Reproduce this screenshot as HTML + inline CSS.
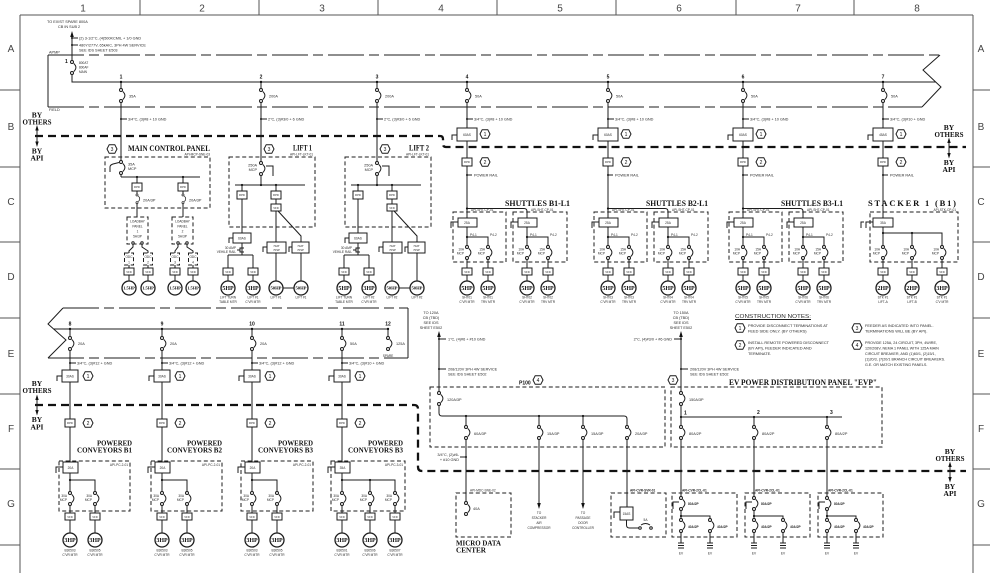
<!DOCTYPE html>
<html><head><meta charset="utf-8">
<style>
html,body{margin:0;padding:0;background:#fff;width:990px;height:573px;overflow:hidden}
svg{display:block}
text{font-family:"Liberation Sans",sans-serif;fill:#2a2a2a;stroke:none;font-size:3.8px}
.n{font-size:5px;font-weight:bold;fill:#111}
.h{font-family:"Liberation Serif",serif;font-weight:bold;fill:#111}
.g{font-size:10px;fill:#444}
.m{font-family:"Liberation Serif",serif;font-weight:bold;font-size:6px;fill:#111;text-anchor:middle}
.c{text-anchor:middle}
.e{text-anchor:end}
.k{font-size:3.2px}
.x{font-size:5px;text-anchor:middle;fill:#111}
.b{font-weight:bold}
.dl{stroke-dasharray:4 2.6}
.cl{stroke-dasharray:36 5 10 5}
</style></head><body>
<svg width="990" height="573" viewBox="0 0 990 573" xmlns="http://www.w3.org/2000/svg">
<defs>
<g id="b"><rect x="-2" y="1.6" width="4" height="7.8" fill="#fff" stroke="none"/><circle cx="0" cy="0" r="1.5" fill="#fff"/><circle cx="0" cy="11" r="1.5" fill="#fff"/><path d="M1.8,1.5 Q6,5.5 1.8,9.5" fill="none"/></g>
<g id="m"><circle r="7" fill="#fff" stroke-width="1.3"/></g>
<g id="hx"><polygon points="-5,0 -2.8,-4.3 2.8,-4.3 5,0 2.8,4.3 -2.8,4.3" fill="#fff"/></g>
</defs>
<rect width="990" height="573" fill="#fff"/>
<g stroke="#1c1c1c" stroke-width="1" fill="none">
<!-- frame -->
<path stroke="#555" d="M20,15H973M20,15V573M973,15V573M140,0V15M259,0V15M378,0V15M497,0V15M616,0V15M736,0V15M854,0V15M0,90H20M0,167H20M0,242H20M0,318H20M0,394H20M0,469H20M0,545H20M973,90H990M973,167H990M973,242H990M973,318H990M973,394H990M973,469H990M973,545H990"/>

<!-- APMP top -->
<path class="cl" d="M48,55H940M48,107H922"/>
<path d="M48,55V107M940,55L923,70L941,87L922,107"/>
<path d="M72,35V82H936M72,38H78M72,45H78"/>
<use href="#b" x="72" y="62"/>
<path d="M121,82V177M261,82V185M377,82V185M467,82V218M608,82V218M743,82V218M883,82V218"/>
<path d="M121,119H127M261,119H267M377,119H383M467,119H473M608,119H614M743,119H749M883,119H889"/>
<use href="#b" x="121" y="90"/><use href="#b" x="261" y="90"/><use href="#b" x="377" y="90"/><use href="#b" x="467" y="90"/><use href="#b" x="608" y="90"/><use href="#b" x="743" y="90"/><use href="#b" x="883" y="90"/>

<!-- thick dashed lines -->
<path stroke="#111" stroke-width="2.3" stroke-dasharray="8 5" d="M35,136H440Q443,136 443,139V144Q443,147 446,147H966"/>
<path stroke="#111" stroke-width="2.3" stroke-dasharray="8 5" d="M35,405H414Q418,405 418,409V467Q418,471 422,471H966"/>
<path d="M37,128V144M949,140V156M37,397V413M950,464V480"/>

<!-- disconnects 4-7 -->
<path d="M457,135H452V140M598,135H593V140M733,135H728V140M873,135H868V140M467,175H472M608,175H613M743,175H748M883,175H888"/>
<rect x="457" y="128" width="20" height="13" fill="#fff"/><rect x="598" y="128" width="20" height="13" fill="#fff"/><rect x="733" y="128" width="20" height="13" fill="#fff"/><rect x="873" y="128" width="20" height="13" fill="#fff"/>
<rect x="462" y="158" width="10" height="8" fill="#fff"/><rect x="603" y="158" width="10" height="8" fill="#fff"/><rect x="738" y="158" width="10" height="8" fill="#fff"/><rect x="878" y="158" width="10" height="8" fill="#fff"/>
<use href="#hx" x="485" y="134"/><use href="#hx" x="626" y="134"/><use href="#hx" x="761" y="134"/><use href="#hx" x="901" y="134"/>
<use href="#hx" x="485" y="162"/><use href="#hx" x="626" y="162"/><use href="#hx" x="761" y="162"/><use href="#hx" x="901" y="162"/>

<!-- MAIN CONTROL PANEL -->
<use href="#hx" x="112" y="149"/>
<rect class="dl" x="105" y="157" width="105" height="51"/>
<use href="#b" x="121" y="162"/>
<path d="M110,172V167Q110,165 113,164L119,162.5"/>
<path d="M121,177H200M137,177V217M183,177V217"/>
<rect x="132" y="183" width="10" height="8" fill="#fff"/><rect x="178" y="183" width="10" height="8" fill="#fff"/>
<use href="#b" transform="translate(137,195) scale(.7)"/><use href="#b" transform="translate(183,195) scale(.7)"/>
<rect class="dl" x="127" y="217" width="21" height="27" fill="#fff"/><rect class="dl" x="172" y="217" width="21" height="27" fill="#fff"/>
<path d="M133,244.2V247L129,251V253M142,244.2V247L148,251V253M178,244.2V247L175,251V253M187,244.2V247L193,251V253"/>
<circle cx="133" cy="243" r="1.2" fill="#fff"/><circle cx="142" cy="243" r="1.2" fill="#fff"/><circle cx="178" cy="243" r="1.2" fill="#fff"/><circle cx="187" cy="243" r="1.2" fill="#fff"/>
<path d="M129,265V268M148,265V268M175,265V268M193,265V268M129,275V281M148,275V281M175,275V281M193,275V281"/>
<rect class="dl" x="124.5" y="253" width="9" height="12"/><rect class="dl" x="143.5" y="253" width="9" height="12"/><rect class="dl" x="170.5" y="253" width="9" height="12"/><rect class="dl" x="188.5" y="253" width="9" height="12"/>
<rect x="124" y="268" width="10" height="7" fill="#fff"/><rect x="143" y="268" width="10" height="7" fill="#fff"/><rect x="170" y="268" width="10" height="7" fill="#fff"/><rect x="188" y="268" width="10" height="7" fill="#fff"/>
<use href="#m" x="129" y="288"/><use href="#m" x="148" y="288"/><use href="#m" x="175" y="288"/><use href="#m" x="193" y="288"/>

<!-- LIFT 1 -->
<use href="#hx" x="269" y="149"/>
<rect class="dl" x="229" y="157" width="86" height="70"/>
<use href="#b" x="261" y="163"/>
<path d="M266,166H273V176"/>
<path d="M235,185H305M242,185V233M276,185V242M278,211L301,236V242"/>
<path d="M242,243V255M228,255H253M228,255V268M253,255V268M228,275V281M253,275V281M244,248H240V252H244M240,250H237M233,238H229V243"/>
<path d="M276,253V281M301,253V281M283,288H294M267,247H263V252M292,247H289V252"/>
<rect x="237" y="191" width="10" height="8" fill="#fff"/><rect x="271" y="191" width="10" height="8" fill="#fff"/>
<rect x="271" y="204" width="10" height="7" fill="#fff"/>
<rect x="233" y="233" width="18" height="10" fill="#fff"/>
<rect x="223" y="268" width="10" height="7" fill="#fff"/><rect x="248" y="268" width="10" height="7" fill="#fff"/>
<rect x="267" y="242" width="19" height="11" fill="#fff"/><rect x="292" y="242" width="17" height="11" fill="#fff"/>
<use href="#m" x="228" y="288"/><use href="#m" x="253" y="288"/><use href="#m" x="276" y="288"/><use href="#m" x="301" y="288"/>

<!-- LIFT 2 -->
<use href="#hx" x="385" y="149"/>
<rect class="dl" x="345" y="157" width="86" height="70"/>
<use href="#b" x="377" y="163"/>
<path d="M382,166H389V176"/>
<path d="M351,185H421M358,185V233M392,185V242M394,211L417,236V242"/>
<path d="M358,243V255M344,255H369M344,255V268M369,255V268M344,275V281M369,275V281M360,248H356V252H360M356,250H353M349,238H345V243"/>
<path d="M392,253V281M417,253V281M399,288H410M383,247H379V252M408,247H405V252"/>
<rect x="353" y="191" width="10" height="8" fill="#fff"/><rect x="387" y="191" width="10" height="8" fill="#fff"/>
<rect x="387" y="204" width="10" height="7" fill="#fff"/>
<rect x="349" y="233" width="18" height="10" fill="#fff"/>
<rect x="339" y="268" width="10" height="7" fill="#fff"/><rect x="364" y="268" width="10" height="7" fill="#fff"/>
<rect x="383" y="242" width="19" height="11" fill="#fff"/><rect x="408" y="242" width="17" height="11" fill="#fff"/>
<use href="#m" x="344" y="288"/><use href="#m" x="369" y="288"/><use href="#m" x="392" y="288"/><use href="#m" x="417" y="288"/>

<!-- SHUTTLES -->
<path d="M467,208.5H524Q527,208.5 527,211.5V218M608,208.5H665Q668,208.5 668,211.5V218M743,208.5H800Q803,208.5 803,211.5V218"/>
<rect class="dl" x="453" y="212" width="53" height="50"/><rect class="dl" x="513" y="212" width="54" height="50"/>
<rect class="dl" x="594" y="212" width="53" height="50"/><rect class="dl" x="654" y="212" width="54" height="50"/>
<rect class="dl" x="729" y="212" width="53" height="50"/><rect class="dl" x="789" y="212" width="54" height="50"/>
<path d="M467,227V281M467,237H488V281M458,222H451V228M527,227V281M527,237H548V281M518,222H511V228"/>
<path d="M608,227V281M608,237H629V281M599,222H592V228M668,227V281M668,237H689V281M659,222H652V228"/>
<path d="M743,227V281M743,237H764V281M734,222H727V228M803,227V281M803,237H824V281M794,222H787V228"/>
<rect x="458" y="218" width="19" height="9" fill="#fff"/><rect x="518" y="218" width="19" height="9" fill="#fff"/>
<rect x="599" y="218" width="19" height="9" fill="#fff"/><rect x="659" y="218" width="19" height="9" fill="#fff"/>
<rect x="734" y="218" width="19" height="9" fill="#fff"/><rect x="794" y="218" width="19" height="9" fill="#fff"/>
<use href="#b" x="467" y="247"/><use href="#b" x="488" y="247"/><use href="#b" x="527" y="247"/><use href="#b" x="548" y="247"/>
<use href="#b" x="608" y="247"/><use href="#b" x="629" y="247"/><use href="#b" x="668" y="247"/><use href="#b" x="689" y="247"/>
<use href="#b" x="743" y="247"/><use href="#b" x="764" y="247"/><use href="#b" x="803" y="247"/><use href="#b" x="824" y="247"/>
<rect x="462" y="268" width="10" height="7" fill="#fff"/><rect x="483" y="268" width="10" height="7" fill="#fff"/><rect x="522" y="268" width="10" height="7" fill="#fff"/><rect x="543" y="268" width="10" height="7" fill="#fff"/>
<rect x="603" y="268" width="10" height="7" fill="#fff"/><rect x="624" y="268" width="10" height="7" fill="#fff"/><rect x="663" y="268" width="10" height="7" fill="#fff"/><rect x="684" y="268" width="10" height="7" fill="#fff"/>
<rect x="738" y="268" width="10" height="7" fill="#fff"/><rect x="759" y="268" width="10" height="7" fill="#fff"/><rect x="798" y="268" width="10" height="7" fill="#fff"/><rect x="819" y="268" width="10" height="7" fill="#fff"/>
<use href="#m" x="467" y="288"/><use href="#m" x="488" y="288"/><use href="#m" x="527" y="288"/><use href="#m" x="548" y="288"/>
<use href="#m" x="608" y="288"/><use href="#m" x="629" y="288"/><use href="#m" x="668" y="288"/><use href="#m" x="689" y="288"/>
<use href="#m" x="743" y="288"/><use href="#m" x="764" y="288"/><use href="#m" x="803" y="288"/><use href="#m" x="824" y="288"/>

<!-- STACKER -->
<rect class="dl" x="870" y="212" width="88" height="50"/>
<path d="M883,227V281M883,233H942V281M912,233V281M873,222H866V228M864,222H861V228"/>
<rect x="873" y="218" width="20" height="9" fill="#fff"/>
<use href="#b" x="883" y="247"/><use href="#b" x="912" y="247"/><use href="#b" x="942" y="247"/>
<rect x="878" y="268" width="10" height="7" fill="#fff"/><rect x="907" y="268" width="10" height="7" fill="#fff"/><rect x="937" y="268" width="10" height="7" fill="#fff"/>
<use href="#m" x="883" y="288"/><use href="#m" x="912" y="288"/><use href="#m" x="942" y="288"/>

<!-- lower APMP -->
<path class="cl" d="M63,308H408M48,358H408"/>
<path d="M408,308V358M63,308L48,324L66,340L48,358"/>
<path d="M54,329H388M388,329V349"/>
<path d="M70,329V533M162,329V533M252,329V533M342,329V533"/>
<path d="M70,480H95V533M162,480H187V533M252,480H277V533M342,480H395V533M370,480V533"/>
<path d="M70,363H76M162,363H168M252,363H258M342,363H348"/>
<path d="M62,376H57V381M154,376H149V381M244,376H239V381M334,376H329V381"/>
<path d="M63,467H56V473M155,467H148V473M245,467H238V473M335,467H328V473"/>
<use href="#b" x="70" y="338"/><use href="#b" x="162" y="338"/><use href="#b" x="252" y="338"/><use href="#b" x="342" y="338"/><use href="#b" x="388" y="338"/>
<rect x="62" y="370" width="16" height="12" fill="#fff"/><rect x="154" y="370" width="16" height="12" fill="#fff"/><rect x="244" y="370" width="16" height="12" fill="#fff"/><rect x="334" y="370" width="16" height="12" fill="#fff"/>
<rect x="65" y="419" width="10" height="8" fill="#fff"/><rect x="157" y="419" width="10" height="8" fill="#fff"/><rect x="247" y="419" width="10" height="8" fill="#fff"/><rect x="337" y="419" width="10" height="8" fill="#fff"/>
<use href="#hx" x="88" y="376"/><use href="#hx" x="180" y="376"/><use href="#hx" x="270" y="376"/><use href="#hx" x="360" y="376"/>
<use href="#hx" x="88" y="423"/><use href="#hx" x="180" y="423"/><use href="#hx" x="270" y="423"/><use href="#hx" x="360" y="423"/>
<rect class="dl" x="59" y="461" width="71" height="50"/><rect class="dl" x="151" y="461" width="71" height="50"/><rect class="dl" x="241" y="461" width="72" height="50"/><rect class="dl" x="331" y="461" width="74" height="50"/>
<rect x="63" y="462" width="15" height="11" fill="#fff"/><rect x="155" y="462" width="15" height="11" fill="#fff"/><rect x="245" y="462" width="15" height="11" fill="#fff"/><rect x="335" y="462" width="15" height="11" fill="#fff"/>
<use href="#b" x="70" y="493"/><use href="#b" x="95" y="493"/><use href="#b" x="162" y="493"/><use href="#b" x="187" y="493"/><use href="#b" x="252" y="493"/><use href="#b" x="277" y="493"/><use href="#b" x="342" y="493"/><use href="#b" x="370" y="493"/><use href="#b" x="395" y="493"/>
<rect x="65" y="513" width="10" height="7" fill="#fff"/><rect x="90" y="513" width="10" height="7" fill="#fff"/><rect x="157" y="513" width="10" height="7" fill="#fff"/><rect x="182" y="513" width="10" height="7" fill="#fff"/><rect x="247" y="513" width="10" height="7" fill="#fff"/><rect x="272" y="513" width="10" height="7" fill="#fff"/><rect x="337" y="513" width="10" height="7" fill="#fff"/><rect x="365" y="513" width="10" height="7" fill="#fff"/><rect x="390" y="513" width="10" height="7" fill="#fff"/>
<use href="#m" x="70" y="540"/><use href="#m" x="95" y="540"/><use href="#m" x="162" y="540"/><use href="#m" x="187" y="540"/><use href="#m" x="252" y="540"/><use href="#m" x="277" y="540"/><use href="#m" x="342" y="540"/><use href="#m" x="370" y="540"/><use href="#m" x="395" y="540"/>

<!-- P100 -->
<path d="M439,335V413Q439,416 442,416H624Q627,416 627,419V507"/>
<path d="M466,416V514M539,416V505M583,416V505"/>
<path d="M439,339H446M439,369H446M460,457H466"/>
<rect class="dl" x="430" y="387" width="235" height="60"/>
<use href="#hx" x="538" y="380"/>
<use href="#b" x="439" y="393"/><use href="#b" x="466" y="427"/><use href="#b" x="539" y="427"/><use href="#b" x="583" y="427"/><use href="#b" x="627" y="427"/>
<rect class="dl" x="456" y="493" width="55" height="44"/>
<use href="#b" x="466" y="503"/>
<rect class="dl" x="611" y="493" width="55" height="44"/>
<path d="M626.5,520V525Q626.5,528 629.5,528H638.7M641,525Q645.5,522 650,525M620,512H614V518"/>
<rect x="620" y="507" width="13" height="13" fill="#fff"/>
<circle cx="640" cy="528" r="1.3" fill="#fff"/><circle cx="651" cy="528" r="1.3" fill="#fff"/>

<!-- EVP -->
<path d="M681,335V543M681,417H842M754,417V543M827,417V543"/>
<path d="M674,339H681M681,369H688"/>
<rect class="dl" x="671" y="387" width="211" height="60"/>
<use href="#hx" x="673" y="380"/>
<use href="#b" x="681" y="393"/><use href="#b" x="681" y="427"/><use href="#b" x="754" y="427"/><use href="#b" x="827" y="427"/>
<rect class="dl" x="672" y="493" width="65" height="44"/><rect class="dl" x="745" y="493" width="65" height="44"/><rect class="dl" x="818" y="493" width="65" height="44"/>
<path d="M681,516H710V543M754,516H783V543M827,516H856V543M679.5,502H673V509M752.5,502H746V509M825.5,502H819V509"/>
<use href="#b" x="681" y="498"/><use href="#b" x="681" y="520"/><use href="#b" x="710" y="520"/>
<use href="#b" x="754" y="498"/><use href="#b" x="754" y="520"/><use href="#b" x="783" y="520"/>
<use href="#b" x="827" y="498"/><use href="#b" x="827" y="520"/><use href="#b" x="856" y="520"/>
<path d="M678,543H684M678,545.5H684M678,548H684M707,543H713M707,545.5H713M707,548H713M751,543H757M751,545.5H757M751,548H757M780,543H786M780,545.5H786M780,548H786M824,543H830M824,545.5H830M824,548H830M853,543H859M853,545.5H859M853,548H859"/>

<!-- notes hexes -->
<use href="#hx" x="740" y="328"/><use href="#hx" x="740" y="345"/><use href="#hx" x="857" y="328"/><use href="#hx" x="857" y="345"/>
<path d="M735,319.5H811"/>
</g>

<!-- filled dots & arrowheads -->
<g fill="#111" stroke="none">
<path d="M72,31L70.2,37H73.8Z M439,331L437.2,337H440.8Z M681,331L679.2,337H682.8Z M539,509L537.2,503H540.8Z M583,509L581.2,503H584.8Z"/>
<path d="M37,125L35.3,130.5H38.7Z M37,147L35.3,141.5H38.7Z M949,137.5L947.3,143H950.7Z M949,158.5L947.3,153H950.7Z M37,394.5L35.3,400H38.7Z M37,415.5L35.3,410H38.7Z M950,461.5L948.3,467H951.7Z M950,482.5L948.3,477H951.7Z"/>
<circle cx="72" cy="38" r="1"/><circle cx="72" cy="45" r="1"/>
<circle cx="121" cy="82" r="1.2"/><circle cx="261" cy="82" r="1.2"/><circle cx="377" cy="82" r="1.2"/><circle cx="467" cy="82" r="1.2"/><circle cx="608" cy="82" r="1.2"/><circle cx="743" cy="82" r="1.2"/><circle cx="883" cy="82" r="1.2"/>
<circle cx="121" cy="119" r="1"/><circle cx="261" cy="119" r="1"/><circle cx="377" cy="119" r="1"/><circle cx="467" cy="119" r="1"/><circle cx="608" cy="119" r="1"/><circle cx="743" cy="119" r="1"/><circle cx="883" cy="119" r="1"/>
<circle cx="467" cy="175" r="1"/><circle cx="608" cy="175" r="1"/><circle cx="743" cy="175" r="1"/><circle cx="883" cy="175" r="1"/>
<circle cx="137" cy="177" r="1.1"/><circle cx="183" cy="177" r="1.1"/>
<circle cx="242" cy="185" r="1.1"/><circle cx="261" cy="185" r="1.1"/><circle cx="276" cy="185" r="1.1"/>
<circle cx="358" cy="185" r="1.1"/><circle cx="377" cy="185" r="1.1"/><circle cx="392" cy="185" r="1.1"/>
<circle cx="467" cy="208.5" r="1.1"/><circle cx="608" cy="208.5" r="1.1"/><circle cx="743" cy="208.5" r="1.1"/>
<circle cx="467" cy="237" r="1.1"/><circle cx="527" cy="237" r="1.1"/><circle cx="608" cy="237" r="1.1"/><circle cx="668" cy="237" r="1.1"/><circle cx="743" cy="237" r="1.1"/><circle cx="803" cy="237" r="1.1"/>
<circle cx="883" cy="233" r="1.1"/><circle cx="912" cy="233" r="1.1"/>
<circle cx="70" cy="329" r="1.2"/><circle cx="162" cy="329" r="1.2"/><circle cx="252" cy="329" r="1.2"/><circle cx="342" cy="329" r="1.2"/><circle cx="388" cy="329" r="1.2"/>
<circle cx="70" cy="363" r="1"/><circle cx="162" cy="363" r="1"/><circle cx="252" cy="363" r="1"/><circle cx="342" cy="363" r="1"/>
<circle cx="70" cy="480" r="1.1"/><circle cx="162" cy="480" r="1.1"/><circle cx="252" cy="480" r="1.1"/><circle cx="342" cy="480" r="1.1"/><circle cx="370" cy="480" r="1.1"/>
<circle cx="439" cy="339" r="1"/><circle cx="439" cy="369" r="1"/><circle cx="466" cy="457" r="1"/><circle cx="681" cy="339" r="1"/><circle cx="681" cy="369" r="1"/>
<circle cx="466" cy="416" r="1.1"/><circle cx="539" cy="416" r="1.1"/><circle cx="583" cy="416" r="1.1"/>
<circle cx="681" cy="417" r="1.1"/><circle cx="754" cy="417" r="1.1"/><circle cx="827" cy="417" r="1.1"/>
<circle cx="681" cy="516" r="1.1"/><circle cx="754" cy="516" r="1.1"/><circle cx="827" cy="516" r="1.1"/>
</g>

<!-- TEXT -->
<g>
<text class="g c" x="83" y="11.5">1</text><text class="g c" x="202" y="11.5">2</text><text class="g c" x="322" y="11.5">3</text><text class="g c" x="441" y="11.5">4</text><text class="g c" x="560" y="11.5">5</text><text class="g c" x="679" y="11.5">6</text><text class="g c" x="798" y="11.5">7</text><text class="g c" x="917" y="11.5">8</text>
<text class="g c" x="11" y="52">A</text><text class="g c" x="11" y="130">B</text><text class="g c" x="11" y="205">C</text><text class="g c" x="11" y="280">D</text><text class="g c" x="11" y="357">E</text><text class="g c" x="11" y="432">F</text><text class="g c" x="11" y="507">G</text>
<text class="g c" x="981" y="52">A</text><text class="g c" x="981" y="130">B</text><text class="g c" x="981" y="205">C</text><text class="g c" x="981" y="280">D</text><text class="g c" x="981" y="357">E</text><text class="g c" x="981" y="432">F</text><text class="g c" x="981" y="507">G</text>

<text x="47" y="23">TO EXIST SPARE 800A</text>
<text x="58" y="28">CB IN SUB 2</text>
<text x="79" y="39.5">(2) 3-1/2"C, (4)500KCMIL + 1/0 GND</text>
<text x="79" y="46.5">480Y/277V, 65kAIC, 3PH 4W SERVICE</text>
<text x="79" y="51.5">SEE IDS SHEET E503</text>
<text x="49" y="53.5">APMP</text>
<text x="49" y="111">FIELD</text>
<text class="n" x="65" y="63">1</text>
<text class="k" x="79" y="64">800AT</text><text class="k" x="79" y="68.5">800AF</text><text class="k" x="79" y="73">MAIN</text>

<text class="n c" x="121" y="78.5">1</text><text class="n c" x="261" y="78.5">2</text><text class="n c" x="377" y="78.5">3</text><text class="n c" x="467" y="78.5">4</text><text class="n c" x="608" y="78.5">5</text><text class="n c" x="743" y="78.5">6</text><text class="n c" x="883" y="78.5">7</text>
<text x="129" y="97.5">35A</text><text x="269" y="97.5">200A</text><text x="385" y="97.5">200A</text><text x="475" y="97.5">50A</text><text x="616" y="97.5">50A</text><text x="751" y="97.5">50A</text><text x="891" y="97.5">50A</text>
<text x="128" y="120.5">3/4"C, (3)#8 + 10 GND</text>
<text x="268" y="120.5">2"C, (3)#3/0 + 6 GND</text>
<text x="384" y="120.5">2"C, (3)#3/0 + 6 GND</text>
<text x="474" y="120.5">3/4"C, (3)#8 + 10 GND</text>
<text x="615" y="120.5">3/4"C, (3)#8 + 10 GND</text>
<text x="750" y="120.5">3/4"C, (3)#8 + 10 GND</text>
<text x="890" y="120.5">3/4"C, (3)#10 + GND</text>

<text class="k c" x="467" y="136">60AS</text><text class="k c" x="608" y="136">60AS</text><text class="k c" x="743" y="136">60AS</text><text class="k c" x="883" y="136">45AS</text>
<text class="x" x="485" y="136">1</text><text class="x" x="626" y="136">1</text><text class="x" x="761" y="136">1</text><text class="x" x="901" y="136">1</text>
<text class="x" x="485" y="164">2</text><text class="x" x="626" y="164">2</text><text class="x" x="761" y="164">2</text><text class="x" x="901" y="164">2</text>
<text class="c" style="font-size:2.8px" x="467" y="163">RPD</text><text class="c" style="font-size:2.8px" x="608" y="163">RPD</text><text class="c" style="font-size:2.8px" x="743" y="163">RPD</text><text class="c" style="font-size:2.8px" x="883" y="163">RPD</text>
<text x="474" y="176.5">POWER RAIL</text><text x="615" y="176.5">POWER RAIL</text><text x="750" y="176.5">POWER RAIL</text><text x="890" y="176.5">POWER RAIL</text>

<text class="h c" style="font-size:7.5px" x="37" y="117.5">BY</text><text class="h c" style="font-size:7.5px" x="37" y="124.5" textLength="29" lengthAdjust="spacingAndGlyphs">OTHERS</text>
<text class="h c" style="font-size:7.5px" x="37" y="153.5">BY</text><text class="h c" style="font-size:7.5px" x="37" y="160.5">API</text>
<text class="h c" style="font-size:7.5px" x="949" y="130">BY</text><text class="h c" style="font-size:7.5px" x="949" y="137" textLength="29" lengthAdjust="spacingAndGlyphs">OTHERS</text>
<text class="h c" style="font-size:7.5px" x="949" y="165">BY</text><text class="h c" style="font-size:7.5px" x="949" y="172">API</text>
<text class="h c" style="font-size:7.5px" x="37" y="386">BY</text><text class="h c" style="font-size:7.5px" x="37" y="393" textLength="29" lengthAdjust="spacingAndGlyphs">OTHERS</text>
<text class="h c" style="font-size:7.5px" x="37" y="422">BY</text><text class="h c" style="font-size:7.5px" x="37" y="429.5">API</text>
<text class="h c" style="font-size:7.5px" x="950" y="454">BY</text><text class="h c" style="font-size:7.5px" x="950" y="461" textLength="29" lengthAdjust="spacingAndGlyphs">OTHERS</text>
<text class="h c" style="font-size:7.5px" x="950" y="489">BY</text><text class="h c" style="font-size:7.5px" x="950" y="496">API</text>

<!-- MCP text -->
<text class="x" x="112" y="151">3</text>
<text class="h" style="font-size:8px" x="128" y="151" textLength="82" lengthAdjust="spacingAndGlyphs">MAIN CONTROL PANEL</text>
<text class="k e" x="210" y="155.5">API-MCP-SNE-03</text>
<text x="128" y="165.5">35A</text><text x="128" y="170">MCP</text>
<text class="c" style="font-size:2.8px" x="137" y="188">RPD</text><text class="c" style="font-size:2.8px" x="183" y="188">RPD</text>
<text x="143" y="201.5">20A/3P</text><text x="189" y="201.5">20A/3P</text>
<text class="k c" x="137.5" y="222.5">LOADBAY</text><text class="k c" x="137.5" y="227.5">PANEL</text><text class="k c" x="137.5" y="232.5">1</text><text class="k c" x="137.5" y="237.5">5A/3P</text>
<text class="k c" x="182.5" y="222.5">LOADBAY</text><text class="k c" x="182.5" y="227.5">PANEL</text><text class="k c" x="182.5" y="232.5">2</text><text class="k c" x="182.5" y="237.5">5A/3P</text>
<text class="k c" x="129" y="258">ODC</text><text class="k c" x="129" y="263.5">1</text><text class="k c" x="148" y="258">ODC</text><text class="k c" x="148" y="263.5">2</text>
<text class="k c" x="175" y="258">ODC</text><text class="k c" x="175" y="263.5">3</text><text class="k c" x="193" y="258">ODC</text><text class="k c" x="193" y="263.5">4</text>
<text class="c" style="font-size:2.8px" x="129" y="273">VFD</text><text class="c" style="font-size:2.8px" x="148" y="273">VFD</text><text class="c" style="font-size:2.8px" x="175" y="273">VFD</text><text class="c" style="font-size:2.8px" x="193" y="273">VFD</text>
<text class="m" style="font-size:4.4px" x="129" y="289.5">1.5HP</text><text class="m" style="font-size:4.4px" x="148" y="289.5">1.5HP</text><text class="m" style="font-size:4.4px" x="175" y="289.5">1.5HP</text><text class="m" style="font-size:4.4px" x="193" y="289.5">1.5HP</text>

<!-- LIFT text -->
<text class="x" x="269" y="151">3</text>
<text class="h" style="font-size:8px" x="293" y="150.5" textLength="19" lengthAdjust="spacingAndGlyphs">LIFT 1</text>
<text class="k e" x="313" y="155.5">API-LFT-LKT-01</text>
<text class="e" x="257" y="166.5">250A</text><text class="e" x="257" y="171">MCP</text>
<text class="c" style="font-size:2.8px" x="242" y="196">RPD</text><text class="c" style="font-size:2.8px" x="276" y="196">RPD</text><text class="c" style="font-size:2.8px" x="276" y="208.8">VFD</text>
<text class="k c" x="242" y="239.3">60AS</text>
<text class="k e" x="236" y="249">30 AMP</text><text class="k e" x="236" y="253">VEHILE RAIL</text>
<text class="c" style="font-size:2.8px" x="228" y="273">VFD</text><text class="c" style="font-size:2.8px" x="253" y="273">VFD</text>
<text class="c" style="font-size:2.8px" x="276.5" y="246.8">70AT</text><text class="c" style="font-size:2.8px" x="276.5" y="251">70SP</text>
<text class="c" style="font-size:2.8px" x="300.5" y="246.8">70AT</text><text class="c" style="font-size:2.8px" x="300.5" y="251">70SP</text>
<text class="m" x="228" y="290">5HP</text><text class="m" x="253" y="290">3HP</text><text class="m" style="font-size:4.6px" x="276" y="289.6">50HP</text><text class="m" style="font-size:4.6px" x="301" y="289.6">50HP</text>
<text class="k c" x="228" y="298.5">LIFT TURN</text><text class="k c" x="228" y="303">TABLE MTR</text>
<text class="k c" x="253" y="298.5">LIFT #1</text><text class="k c" x="253" y="303">C'VR MTR</text>
<text class="k c" x="276" y="298.5">LIFT #1</text><text class="k c" x="301" y="298.5">LIFT #1</text>

<text class="x" x="385" y="151">3</text>
<text class="h" style="font-size:8px" x="409" y="150.5" textLength="20" lengthAdjust="spacingAndGlyphs">LIFT 2</text>
<text class="k e" x="429" y="155.5">API-LFT-LKT-01</text>
<text class="e" x="373" y="166.5">250A</text><text class="e" x="373" y="171">MCP</text>
<text class="c" style="font-size:2.8px" x="358" y="196">RPD</text><text class="c" style="font-size:2.8px" x="392" y="196">RPD</text><text class="c" style="font-size:2.8px" x="392" y="208.8">VFD</text>
<text class="k c" x="358" y="239.3">60AS</text>
<text class="k e" x="352" y="249">30 AMP</text><text class="k e" x="352" y="253">VEHILE RAIL</text>
<text class="c" style="font-size:2.8px" x="344" y="273">VFD</text><text class="c" style="font-size:2.8px" x="369" y="273">VFD</text>
<text class="c" style="font-size:2.8px" x="392.5" y="246.8">70AT</text><text class="c" style="font-size:2.8px" x="392.5" y="251">70SP</text>
<text class="c" style="font-size:2.8px" x="416.5" y="246.8">70AT</text><text class="c" style="font-size:2.8px" x="416.5" y="251">70SP</text>
<text class="m" x="344" y="290">5HP</text><text class="m" x="369" y="290">3HP</text><text class="m" style="font-size:4.6px" x="392" y="289.6">50HP</text><text class="m" style="font-size:4.6px" x="417" y="289.6">50HP</text>
<text class="k c" x="344" y="298.5">LIFT TURN</text><text class="k c" x="344" y="303">TABLE MTR</text>
<text class="k c" x="369" y="298.5">LIFT #2</text><text class="k c" x="369" y="303">C'VR MTR</text>
<text class="k c" x="392" y="298.5">LIFT #2</text><text class="k c" x="417" y="298.5">LIFT #2</text>

<!-- SHUTTLES text -->
<text class="h" style="font-size:8px" x="505" y="206" textLength="65" lengthAdjust="spacingAndGlyphs">SHUTTLES B1-L1</text>
<text class="h" style="font-size:8px" x="646" y="206" textLength="62" lengthAdjust="spacingAndGlyphs">SHUTTLES B2-L1</text>
<text class="h" style="font-size:8px" x="781" y="206" textLength="62" lengthAdjust="spacingAndGlyphs">SHUTTLES B3-L1</text>
<text class="k" x="471" y="211.2">API-SHT-CP-01</text><text class="k" x="531" y="211.2">API-SHT-CP-01</text>
<text class="k" x="612" y="211.2">API-SHT-CP-01</text><text class="k" x="672" y="211.2">API-SHT-CP-01</text>
<text class="k" x="747" y="211.2">API-SHT-CP-01</text><text class="k" x="807" y="211.2">API-SHT-CP-01</text>
<text class="k c" x="467" y="223.8">25A</text><text class="k c" x="527" y="223.8">25A</text><text class="k c" x="608" y="223.8">25A</text><text class="k c" x="668" y="223.8">25A</text><text class="k c" x="743" y="223.8">25A</text><text class="k c" x="803" y="223.8">25A</text>
<text class="k" x="470" y="235.8">P4-1</text><text class="k" x="490" y="235.8">P4-2</text><text class="k" x="530" y="235.8">P4-1</text><text class="k" x="550" y="235.8">P4-2</text>
<text class="k" x="611" y="235.8">P4-1</text><text class="k" x="631" y="235.8">P4-2</text><text class="k" x="671" y="235.8">P4-1</text><text class="k" x="691" y="235.8">P4-2</text>
<text class="k" x="746" y="235.8">P4-1</text><text class="k" x="766" y="235.8">P4-2</text><text class="k" x="806" y="235.8">P4-1</text><text class="k" x="826" y="235.8">P4-2</text>
<text class="k e" x="464" y="250.5">10A</text><text class="k e" x="464" y="254.5">MCP</text><text class="k e" x="485" y="250.5">15A</text><text class="k e" x="485" y="254.5">MCP</text>
<text class="k e" x="524" y="250.5">10A</text><text class="k e" x="524" y="254.5">MCP</text><text class="k e" x="545" y="250.5">15A</text><text class="k e" x="545" y="254.5">MCP</text>
<text class="k e" x="605" y="250.5">10A</text><text class="k e" x="605" y="254.5">MCP</text><text class="k e" x="626" y="250.5">15A</text><text class="k e" x="626" y="254.5">MCP</text>
<text class="k e" x="665" y="250.5">10A</text><text class="k e" x="665" y="254.5">MCP</text><text class="k e" x="686" y="250.5">15A</text><text class="k e" x="686" y="254.5">MCP</text>
<text class="k e" x="740" y="250.5">10A</text><text class="k e" x="740" y="254.5">MCP</text><text class="k e" x="761" y="250.5">15A</text><text class="k e" x="761" y="254.5">MCP</text>
<text class="k e" x="800" y="250.5">10A</text><text class="k e" x="800" y="254.5">MCP</text><text class="k e" x="821" y="250.5">15A</text><text class="k e" x="821" y="254.5">MCP</text>
<text class="m" x="467" y="290">5HP</text><text class="m" x="488" y="290">5HP</text><text class="m" x="527" y="290">5HP</text><text class="m" x="548" y="290">5HP</text>
<text class="m" x="608" y="290">5HP</text><text class="m" x="629" y="290">5HP</text><text class="m" x="668" y="290">5HP</text><text class="m" x="689" y="290">5HP</text>
<text class="m" x="743" y="290">5HP</text><text class="m" x="764" y="290">5HP</text><text class="m" x="803" y="290">5HP</text><text class="m" x="824" y="290">5HP</text>
<text class="k c" x="467" y="298.5">SH701</text><text class="k c" x="467" y="303">C'VR MTR</text><text class="k c" x="488" y="298.5">SH701</text><text class="k c" x="488" y="303">TRV MTR</text>
<text class="k c" x="527" y="298.5">SH702</text><text class="k c" x="527" y="303">C'VR MTR</text><text class="k c" x="548" y="298.5">SH702</text><text class="k c" x="548" y="303">TRV MTR</text>
<text class="k c" x="608" y="298.5">SH703</text><text class="k c" x="608" y="303">C'VR MTR</text><text class="k c" x="629" y="298.5">SH703</text><text class="k c" x="629" y="303">TRV MTR</text>
<text class="k c" x="668" y="298.5">SH704</text><text class="k c" x="668" y="303">C'VR MTR</text><text class="k c" x="689" y="298.5">SH704</text><text class="k c" x="689" y="303">TRV MTR</text>
<text class="k c" x="743" y="298.5">SH705</text><text class="k c" x="743" y="303">C'VR MTR</text><text class="k c" x="764" y="298.5">SH705</text><text class="k c" x="764" y="303">TRV MTR</text>
<text class="k c" x="803" y="298.5">SH706</text><text class="k c" x="803" y="303">C'VR MTR</text><text class="k c" x="824" y="298.5">SH706</text><text class="k c" x="824" y="303">TRV MTR</text>

<!-- STACKER text -->
<text class="h" style="font-size:8.5px" x="868" y="206" textLength="88" lengthAdjust="spacing">STACKER 1 (B1)</text>
<text class="k e" x="956" y="211">API-STK-CP-01</text>
<text class="k c" x="883" y="223.8">35A</text>
<text class="k e" x="880" y="250.5">10A</text><text class="k e" x="880" y="254.5">MCP</text>
<text class="k e" x="909" y="250.5">10A</text><text class="k e" x="909" y="254.5">MCP</text>
<text class="k e" x="939" y="250.5">10A</text><text class="k e" x="939" y="254.5">MCP</text>
<text class="m" x="883" y="290">2HP</text><text class="m" x="912" y="290">2HP</text><text class="m" x="942" y="290">3HP</text>
<text class="k c" x="883" y="298.5">STK #1</text><text class="k c" x="883" y="303">LIFT-A</text>
<text class="k c" x="912" y="298.5">STK #1</text><text class="k c" x="912" y="303">LIFT-B</text>
<text class="k c" x="942" y="298.5">STK #1</text><text class="k c" x="942" y="303">C'V MTR</text>
<text class="c" style="font-size:2.8px" x="467" y="273">VFD</text><text class="c" style="font-size:2.8px" x="488" y="273">VFD</text><text class="c" style="font-size:2.8px" x="527" y="273">VFD</text><text class="c" style="font-size:2.8px" x="548" y="273">VFD</text>
<text class="c" style="font-size:2.8px" x="608" y="273">VFD</text><text class="c" style="font-size:2.8px" x="629" y="273">VFD</text><text class="c" style="font-size:2.8px" x="668" y="273">VFD</text><text class="c" style="font-size:2.8px" x="689" y="273">VFD</text>
<text class="c" style="font-size:2.8px" x="743" y="273">VFD</text><text class="c" style="font-size:2.8px" x="764" y="273">VFD</text><text class="c" style="font-size:2.8px" x="803" y="273">VFD</text><text class="c" style="font-size:2.8px" x="824" y="273">VFD</text>
<text class="c" style="font-size:2.8px" x="883" y="273">VFD</text><text class="c" style="font-size:2.8px" x="912" y="273">VFD</text><text class="c" style="font-size:2.8px" x="942" y="273">VFD</text>

<!-- lower APMP text -->
<text class="n c" x="70" y="325.5">8</text><text class="n c" x="162" y="325.5">9</text><text class="n c" x="252" y="325.5">10</text><text class="n c" x="342" y="325.5">11</text><text class="n c" x="388" y="325.5">12</text>
<text x="78" y="345">20A</text><text x="170" y="345">20A</text><text x="260" y="345">20A</text><text x="350" y="345">50A</text><text x="396" y="345">125A</text>
<text class="k c" x="388" y="357">SPARE</text>
<text x="77" y="364.5">3/4"C, (3)#12 + GND</text><text x="169" y="364.5">3/4"C, (3)#12 + GND</text><text x="259" y="364.5">3/4"C, (3)#12 + GND</text><text x="349" y="364.5">3/4"C, (3)#10 + GND</text>
<text class="k c" x="70" y="377.3">30AS</text><text class="k c" x="162" y="377.3">30AS</text><text class="k c" x="252" y="377.3">30AS</text><text class="k c" x="342" y="377.3">30AS</text>
<text class="x" x="88" y="378">1</text><text class="x" x="180" y="378">1</text><text class="x" x="270" y="378">1</text><text class="x" x="360" y="378">1</text>
<text class="x" x="88" y="425">2</text><text class="x" x="180" y="425">2</text><text class="x" x="270" y="425">2</text><text class="x" x="360" y="425">2</text>
<text class="c" style="font-size:2.8px" x="70" y="424">RPD</text><text class="c" style="font-size:2.8px" x="162" y="424">RPD</text><text class="c" style="font-size:2.8px" x="252" y="424">RPD</text><text class="c" style="font-size:2.8px" x="342" y="424">RPD</text>
<text class="h e" style="font-size:7.5px" x="132" y="445.5" textLength="35" lengthAdjust="spacingAndGlyphs">POWERED</text><text class="h e" style="font-size:7.5px" x="132" y="452.5" textLength="55" lengthAdjust="spacingAndGlyphs">CONVEYORS B1</text>
<text class="h e" style="font-size:7.5px" x="222" y="445.5" textLength="35" lengthAdjust="spacingAndGlyphs">POWERED</text><text class="h e" style="font-size:7.5px" x="222" y="452.5" textLength="55" lengthAdjust="spacingAndGlyphs">CONVEYORS B2</text>
<text class="h e" style="font-size:7.5px" x="313" y="445.5" textLength="35" lengthAdjust="spacingAndGlyphs">POWERED</text><text class="h e" style="font-size:7.5px" x="313" y="452.5" textLength="55" lengthAdjust="spacingAndGlyphs">CONVEYORS B3</text>
<text class="h e" style="font-size:7.5px" x="403" y="445.5" textLength="35" lengthAdjust="spacingAndGlyphs">POWERED</text><text class="h e" style="font-size:7.5px" x="403" y="452.5" textLength="55" lengthAdjust="spacingAndGlyphs">CONVEYORS B3</text>
<text class="k e" x="128" y="466">API-PC-2-01</text><text class="k e" x="220" y="466">API-PC-2-01</text><text class="k e" x="311" y="466">API-PC-2-01</text><text class="k e" x="403" y="466">API-PC-3-01</text>
<text class="k c" x="70.5" y="469">20A</text><text class="k c" x="162.5" y="469">20A</text><text class="k c" x="252.5" y="469">20A</text><text class="k c" x="342.5" y="469">35A</text>
<text class="k e" x="67" y="497">30A</text><text class="k e" x="67" y="501">MCP</text><text class="k e" x="92" y="497">30A</text><text class="k e" x="92" y="501">MCP</text>
<text class="k e" x="159" y="497">30A</text><text class="k e" x="159" y="501">MCP</text><text class="k e" x="184" y="497">30A</text><text class="k e" x="184" y="501">MCP</text>
<text class="k e" x="249" y="497">30A</text><text class="k e" x="249" y="501">MCP</text><text class="k e" x="274" y="497">30A</text><text class="k e" x="274" y="501">MCP</text>
<text class="k e" x="339" y="497">30A</text><text class="k e" x="339" y="501">MCP</text><text class="k e" x="367" y="497">30A</text><text class="k e" x="367" y="501">MCP</text><text class="k e" x="392" y="497">30A</text><text class="k e" x="392" y="501">MCP</text>
<text class="c" style="font-size:2.8px" x="70" y="518">VFD</text><text class="c" style="font-size:2.8px" x="95" y="518">VFD</text><text class="c" style="font-size:2.8px" x="162" y="518">VFD</text><text class="c" style="font-size:2.8px" x="187" y="518">VFD</text><text class="c" style="font-size:2.8px" x="252" y="518">VFD</text><text class="c" style="font-size:2.8px" x="277" y="518">VFD</text><text class="c" style="font-size:2.8px" x="342" y="518">VFD</text><text class="c" style="font-size:2.8px" x="370" y="518">VFD</text><text class="c" style="font-size:2.8px" x="395" y="518">VFD</text>
<text class="m" x="70" y="542">3HP</text><text class="m" x="95" y="542">3HP</text><text class="m" x="162" y="542">3HP</text><text class="m" x="187" y="542">3HP</text><text class="m" x="252" y="542">3HP</text><text class="m" x="277" y="542">3HP</text><text class="m" x="342" y="542">3HP</text><text class="m" x="370" y="542">3HP</text><text class="m" x="395" y="542">3HP</text>
<text class="k c" x="70" y="551.5">B30503</text><text class="k c" x="70" y="556">C'VR MTR</text><text class="k c" x="95" y="551.5">B30505</text><text class="k c" x="95" y="556">C'VR MTR</text>
<text class="k c" x="162" y="551.5">B30503</text><text class="k c" x="162" y="556">C'VR MTR</text><text class="k c" x="187" y="551.5">B30505</text><text class="k c" x="187" y="556">C'VR MTR</text>
<text class="k c" x="252" y="551.5">B30503</text><text class="k c" x="252" y="556">C'VR MTR</text><text class="k c" x="277" y="551.5">B30505</text><text class="k c" x="277" y="556">C'VR MTR</text>
<text class="k c" x="342" y="551.5">B30501</text><text class="k c" x="342" y="556">C'VR MTR</text><text class="k c" x="370" y="551.5">B30506</text><text class="k c" x="370" y="556">C'VR MTR</text><text class="k c" x="395" y="551.5">B30507</text><text class="k c" x="395" y="556">C'VR MTR</text>

<!-- P100 text -->
<text class="c" x="431" y="314">TO 120A</text><text class="c" x="431" y="319">CB (TBD)</text><text class="c" x="431" y="324">SEE IDS</text><text class="c" x="431" y="329">SHEET E502</text>
<text x="448" y="340.5">1"C, (4)#6 + #10 GND</text>
<text x="448" y="370.5">208/120V 3PH 4W SERVICE</text><text x="448" y="375.5">SEE IDS SHEET E502</text>
<text class="n" x="519" y="384.5">P100</text><text class="x" x="538" y="382">4</text>
<text x="447" y="401">120A/3P</text>
<text x="474" y="435">60A/3P</text><text x="547" y="435">15A/3P</text><text x="591" y="435">15A/3P</text><text x="635" y="435">20A/3P</text>
<text class="e" x="459" y="456">3/4"C, (2)#6-</text><text class="e" x="459" y="461">+ #10 GND</text>
<text class="k c" x="539" y="514">TO</text><text class="k c" x="539" y="519">STACKER</text><text class="k c" x="539" y="524">AIR</text><text class="k c" x="539" y="529">COMPRESSOR</text>
<text class="k c" x="583" y="514">TO</text><text class="k c" x="583" y="519">PASSAGE</text><text class="k c" x="583" y="524">DOOR</text><text class="k c" x="583" y="529">CONTROLLER</text>
<text class="k" x="470" y="491.5">API-MDC-SNE-02</text>
<text x="473" y="510">40A</text>
<text class="h" style="font-size:7.5px" x="456" y="545.5" textLength="45" lengthAdjust="spacingAndGlyphs">MICRO DATA</text>
<text class="h" style="font-size:7.5px" x="456" y="552.5" textLength="30" lengthAdjust="spacingAndGlyphs">CENTER</text>
<text class="k b" x="630" y="491.5">API-CVR-SVR-01</text>
<text class="k c" x="626.5" y="514.8">15AS</text>
<text class="k c" x="645.5" y="521">5A</text>

<!-- EVP text -->
<text class="c" x="681" y="314">TO 150A</text><text class="c" x="681" y="319">CB (TBD)</text><text class="c" x="681" y="324">SEE IDS</text><text class="c" x="681" y="329">SHEET E502</text>
<text class="e" x="672" y="340.5">2"C, (4)#3/0 + #6 GND</text>
<text x="690" y="370.5">208/120V 3PH 4W SERVICE</text><text x="690" y="375.5">SEE IDS SHEET E502</text>
<text class="x" x="673" y="382">3</text>
<text class="h" style="font-size:8px" x="729" y="385" textLength="148" lengthAdjust="spacingAndGlyphs">EV POWER DISTRIBUTION PANEL "EVP"</text>
<text x="689" y="401">150A/3P</text>
<text class="n" x="684" y="414.5">1</text><text class="n" x="757" y="414">2</text><text class="n" x="830" y="414">3</text>
<text x="689" y="435">80A/2P</text><text x="762" y="435">80A/2P</text><text x="835" y="435">80A/2P</text>
<text class="k b" x="682" y="491.5">API-CVR-2CL-01</text><text class="k b" x="755" y="491.5">API-CVR-2CL-01</text><text class="k b" x="828" y="491.5">API-CVR-2CL-01</text>
<text class="k b" x="688" y="505">80A/2P</text><text class="k b" x="761" y="505">80A/2P</text><text class="k b" x="834" y="505">80A/2P</text>
<text class="k b" x="688" y="528">40A/2P</text><text class="k b" x="717" y="528">40A/2P</text><text class="k b" x="761" y="528">40A/2P</text><text class="k b" x="790" y="528">40A/2P</text><text class="k b" x="834" y="528">40A/2P</text><text class="k b" x="863" y="528">40A/2P</text>
<text class="k c" x="681" y="554.5">EV</text><text class="k c" x="710" y="554.5">EV</text><text class="k c" x="754" y="554.5">EV</text><text class="k c" x="783" y="554.5">EV</text><text class="k c" x="827" y="554.5">EV</text><text class="k c" x="856" y="554.5">EV</text>

<!-- construction notes -->
<text style="font-size:5.3px" x="735" y="318" textLength="76" lengthAdjust="spacingAndGlyphs">CONSTRUCTION NOTES:</text>
<text class="x" x="740" y="330">1</text><text class="x" x="740" y="347">2</text><text class="x" x="857" y="330">3</text><text class="x" x="857" y="347">4</text>
<text style="font-size:3.9px" x="748" y="327">PROVIDE DISCONNECT TERMINATIONS AT</text>
<text style="font-size:3.9px" x="748" y="332.5">FEED SIDE ONLY. (BY OTHERS)</text>
<text style="font-size:3.9px" x="748" y="344">INSTALL REMOTE POWERED DISCONNECT</text>
<text style="font-size:3.9px" x="748" y="349.5">(BY API), FEEDER INDICATED AND</text>
<text style="font-size:3.9px" x="748" y="355">TERMINATE.</text>
<text style="font-size:3.9px" x="865" y="327">FEEDER AS INDICATED INTO PANEL.</text>
<text style="font-size:3.9px" x="865" y="332.5">TERMINATIONS WILL BE (BY API).</text>
<text style="font-size:3.7px" x="865" y="344">PROVIDE 125A, 24 CIRCUIT, 3PH, 4WIRE,</text>
<text style="font-size:3.7px" x="865" y="349.5">120/208V, NEMA 1 PANEL WITH 125A MAIN</text>
<text style="font-size:3.7px" x="865" y="355">CIRCUIT BREAKER, AND (1)60/1, (2)15/1,</text>
<text style="font-size:3.7px" x="865" y="360.5">(1)20/3, (7)20/1 BRANCH CIRCUIT BREAKERS.</text>
<text style="font-size:3.7px" x="865" y="366">G.E. OR MATCH EXISTING PANELS.</text>
</g>
</svg>
</body></html>
